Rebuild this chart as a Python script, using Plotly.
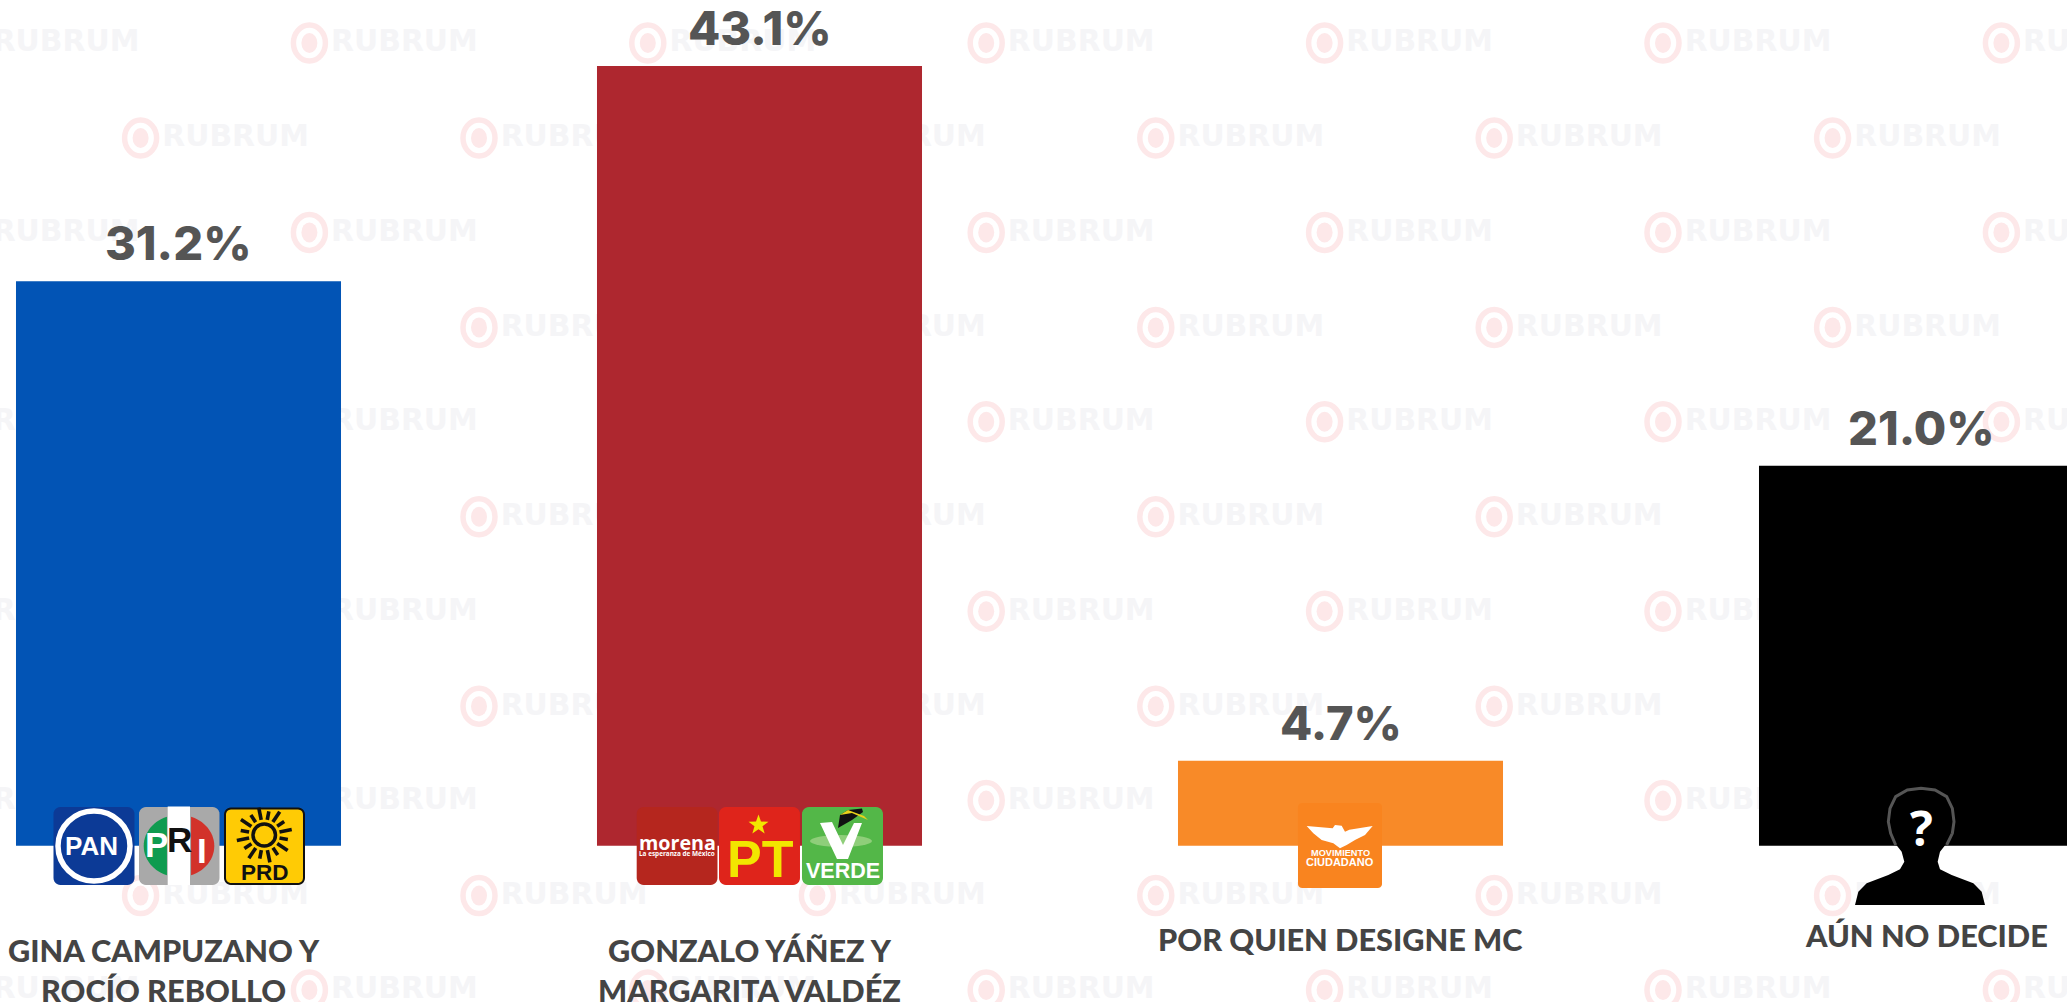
import math
import plotly.graph_objects as go

W, H = 2067, 1002

# ---- data ----
categories = ["GINA CAMPUZANO Y ROCÍO REBOLLO", "GONZALO YÁÑEZ Y MARGARITA VALDÉZ",
              "POR QUIEN DESIGNE MC", "AÚN NO DECIDE"]
values = [31.2, 43.1, 4.7, 21.0]
value_labels = ["31.2%", "43.1%", "4.7%", "21.0%"]
bar_colors = ["#0254b5", "#ae272f", "#f88a28", "#000000"]
display_labels = ["GINA CAMPUZANO Y<br>ROCÍO REBOLLO", "GONZALO YÁÑEZ Y<br>MARGARITA VALDÉZ",
                  "POR QUIEN DESIGNE MC", "AÚN NO DECIDE"]

fig = go.Figure(go.Bar(x=categories, y=values, marker=dict(color=bar_colors, line_width=0), width=0.5594,
                       hoverinfo="skip"))

def px(x): return x / W
def py(y): return 1 - y / H

shapes, annots = [], []

def ellipse(x0, y0, x1, y1, fill="rgba(0,0,0,0)", line=None, lw=0, layer="above"):
    shapes.append(dict(type="circle", xref="paper", yref="paper", x0=px(x0), x1=px(x1), y0=py(y1), y1=py(y0),
                       fillcolor=fill, line=dict(color=line or fill, width=lw), layer=layer))

def path(d_pts, fill="rgba(0,0,0,0)", line=None, lw=0, close=True, layer="above"):
    d = "M " + " L ".join(f"{px(a):.5f},{py(b):.5f}" for a, b in d_pts) + (" Z" if close else "")
    shapes.append(dict(type="path", xref="paper", yref="paper", path=d, fillcolor=fill,
                       line=dict(color=line or fill, width=lw), layer=layer))

def rrect(x0, y0, x1, y1, r, fill, line=None, lw=0):
    pts = []
    for cx, cy, a0 in [(x1 - r, y0 + r, -90), (x1 - r, y1 - r, 0), (x0 + r, y1 - r, 90), (x0 + r, y0 + r, 180)]:
        for k in range(7):
            a = math.radians(a0 + 15 * k)
            pts.append((cx + r * math.cos(a), cy + r * math.sin(a)))
    path(pts, fill, line, lw)

def text(x, y, s, size, color, family="Liberation Sans", weight=700):
    annots.append(dict(xref="paper", yref="paper", x=px(x), y=py(y), text=s, showarrow=False,
                       xanchor="center", yanchor="middle",
                       font=dict(size=size, color=color, family=family, weight=weight)))

# ---- watermark ----
def mark(x, y):
    ellipse(x - 16, y - 18, x + 16, y + 18, fill="#ffffff", line="#fde8e9", lw=5.5, layer="below")
    ellipse(x - 8, y - 10, x + 8, y + 10, fill="#fde8e9", layer="below")
    shapes.append(dict(type="rect", xref="paper", yref="paper", x0=px(x + 21), x1=px(x + 169),
                       y0=py(y + 13), y1=py(y - 21), line_width=0, fillcolor="rgba(0,0,0,0)", layer="below",
                       label=dict(text="RUBRUM", textposition="middle center",
                                  font=dict(size=29.8, color="#f5f5f7", family="DejaVu Sans", weight=700))))

for r in range(6):
    for c in range(-1, 6):
        mark(309.4 + 338.4 * c, 43 + 189.4 * r)
for r in range(5):
    for c in range(0, 6):
        mark(140.6 + 338.4 * c, 138 + 189.4 * r)

# ---- PAN ----
rrect(53.5, 807, 134.5, 885, 7, "#0c3a96")
ellipse(58, 811, 130, 881, fill="#0c3a96", line="#ffffff", lw=5.5)
text(91.5, 846, "PAN", 26, "#ffffff")

# ---- PRI ----
rrect(139, 807, 219.5, 885, 7, "#a9a9a9")
cx, cy, rx, ry = 179, 846, 35.3, 31.2
path([(cx + rx * math.cos(math.radians(a)), cy + ry * math.sin(math.radians(a))) for a in range(0, 361, 5)
      if cx + rx * math.cos(math.radians(a)) < 168], "#0f9b4f")
path([(cx + rx * math.cos(math.radians(a)), cy + ry * math.sin(math.radians(a))) for a in range(-180, 181, 5)
      if cx + rx * math.cos(math.radians(a)) > 190], "#d2322a")
path([(167.7, 806.5), (190, 806.5), (190, 885), (167.7, 885)], "#ffffff")
text(156, 844, "P", 35, "#ffffff")
text(179, 839, "R", 35, "#111111")
text(201.5, 850, "I", 35, "#ffffff")

# ---- PRD ----
rrect(225, 808.5, 304, 884, 6, "#ffcb05", line="#111111", lw=2)
ellipse(253, 824, 275.5, 846, fill="rgba(0,0,0,0)", line="#111111", lw=3.5)
for k in range(16):
    a = math.radians(22.5 * k + 11)
    r1, r2 = 15.5, 28 if k % 2 else 24
    path([(264.3 + r1 * math.cos(a), 835 + r1 * math.sin(a)), (264.3 + r2 * math.cos(a), 835 + r2 * math.sin(a))],
         line="#111111", lw=3.6, close=False)
text(264.5, 872, "PRD", 22.5, "#111111")

# ---- Morena ----
rrect(636.7, 807, 717.5, 885, 7, "#b5261e")
text(677, 842, "morena", 19.7, "#ffffff", "Open Sans")
text(677, 853.5, "La esperanza de México", 6.4, "#ffffff", "Open Sans")

# ---- PT ----
rrect(719, 807, 800, 885, 7, "#df241b")
path([(758.5 + (10.5 if k % 2 == 0 else 4.2) * math.sin(math.radians(36 * k)),
       825 - (10.5 if k % 2 == 0 else 4.2) * math.cos(math.radians(36 * k))) for k in range(10)], "#f2e600")
text(760, 859, "PT", 52, "#f2e600")

# ---- Verde ----
rrect(802, 807, 883, 885, 7, "#53b748")
ellipse(810, 835, 872, 847, fill="#8fce7a")
path([(838, 828), (852, 820), (863, 812), (862, 808.5), (848, 810), (840, 815)], "#111111")
path([(840, 815), (848, 810), (864, 816), (868, 820), (852, 813)], "#e8d21a")
path([(820, 823), (832, 822), (843, 845), (854, 823), (862, 823), (848, 859), (837, 859)], "#ffffff")
text(842.5, 871, "VERDE", 21.5, "#ffffff")

# ---- MC ----
rrect(1298, 803, 1382, 888, 4, "#f9841f")
z = lambda a, b: (1290 + a / 3, 795 + b / 3)
path([z(*p) for p in [(50, 93), (128, 100), (135, 90), (155, 92), (165, 110), (178, 104), (248, 93),
                      (225, 120), (195, 135), (170, 150), (150, 160), (130, 145), (95, 135), (70, 115)]], "#ffffff")
text(1340, 852.5, "MOVIMIENTO", 9.2, "#ffffff")
text(1340, 862, "CIUDADANO", 11, "#ffffff")

# ---- silhouette ----
s = lambda a, b: (1845 + a / 3, 780 + b / 3)
body = [(228, 25), (270, 30), (305, 50), (322, 85), (328, 125), (322, 160), (305, 190), (285, 215), (278, 245),
        (285, 268), (320, 285), (385, 310), (410, 335), (420, 375), (30, 375), (40, 335), (65, 310), (130, 285),
        (165, 268), (178, 245), (170, 215), (150, 190), (135, 160), (128, 125), (133, 85), (150, 50), (185, 30)]
path([s(*p) for p in body], "#000000")
head = [(152, 195), (137, 160), (130, 125), (135, 85), (152, 50), (187, 30), (228, 25), (270, 30), (305, 50),
        (322, 85), (327, 125), (322, 160), (305, 195)]
path([s(*p) for p in head], line="#555555", lw=3, close=False)
text(1921, 827, "?", 48, "#ffffff", "Open Sans")

# ---- value labels ----
for c, v, t in zip(categories, values, value_labels):
    annots.append(dict(x=c, y=v, xref="x", yref="y", text=t, showarrow=False, yanchor="bottom", yshift=8,
                       font=dict(size=47, color="#555555", family="Inter", weight=800)))

# ---- category labels ----
for (x, y), t in zip([(163.5, 970.5), (749, 970.5), (1340.5, 939), (1926, 935)], display_labels):
    text(x, y, t, 30.7, "#444444", "Lato", 900)

fig.update_layout(
    width=W, height=H, margin=dict(l=0, r=0, t=0, b=0, pad=0),
    paper_bgcolor="white", plot_bgcolor="rgba(0,0,0,0)", showlegend=False,
    xaxis=dict(visible=False, range=[-178.5 / 581, (2067 - 178.5) / 581]),
    yaxis=dict(visible=False, range=[-(1002 - 845.7) / 18.09, 845.7 / 18.09]),
    shapes=shapes, annotations=annots,
)
fig.write_html("out.html", config=dict(displayModeBar=False),
               post_script="document.body.style.margin='0';document.documentElement.style.overflow='hidden';")
